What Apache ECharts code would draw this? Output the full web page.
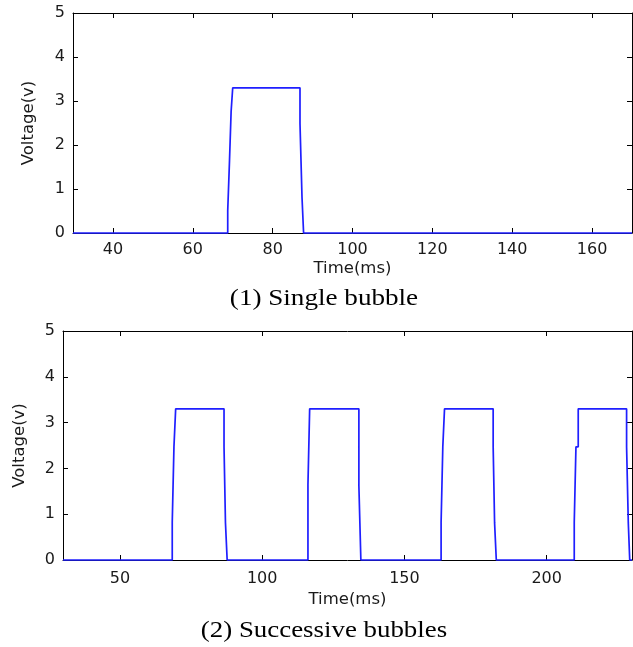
<!DOCTYPE html>
<html>
<head>
<meta charset="utf-8">
<script src="https://cdn.jsdelivr.net/npm/echarts@6/dist/echarts.min.js"></script>
<style>
html,body{margin:0;padding:0;background:#fff;}
#c{width:633px;height:647px;}
</style>
</head>
<body>
<div id="c"></div>
<script>
// ---- Data ----
// (1) Single bubble: times (ms) at which voltage changes, and the new voltage level (V)
const topTimes = [30, 68.75, 69.2, 69.6, 70.0, 86.85, 87.35, 87.75, 170];
const topVolts = [0, 0.51, 1.65, 2.76, 3.3, 2.49, 0.82, 0, 0];
// (2) Successive bubbles
const botTimes = [30, 68.4, 69.0, 69.6, 86.6, 87.1, 87.7, 116.1, 116.7, 134.0, 134.7,
                  162.9, 163.5, 164.1, 181.2, 181.7, 182.3, 209.7, 210.3, 211.1, 228.1, 228.7, 229.2, 230];
const botVolts = [0, 0.82, 2.47, 3.3, 2.47, 0.82, 0, 1.64, 3.3, 1.62, 0,
                  0.82, 2.47, 3.3, 2.47, 0.81, 0, 0.82, 2.47, 3.3, 2.47, 0.81, 0, 0];
// Axis ticks
const topXTicks = [40, 60, 80, 100, 120, 140, 160];
const botXTicks = [50, 100, 150, 200];
const yTicks = [0, 1, 2, 3, 4, 5];
const xName = 'Time(ms)';
const yName = 'Voltage(v)';
const captions = ['(1) Single bubble', '(2) Successive bubbles'];

const pairs = (t, v) => t.map((x, i) => [x, v[i]]);

const labelFont = {fontFamily: 'DejaVu Sans, sans-serif', fontSize: 16, color: '#1a1a1a'};
const nameFont = {fontFamily: 'DejaVu Sans, sans-serif', fontSize: 16.5, color: '#1a1a1a'};
const axisLineStyle = {color: '#000', width: 1};

function xAxes(gridIndex, min, max, ticks, nameGap, margin) {
  return [
    {
      type: 'value', gridIndex, min, max, position: 'bottom',
      name: xName, nameLocation: 'middle', nameGap,
      nameTextStyle: nameFont,
      axisLine: {show: true, onZero: false, lineStyle: axisLineStyle},
      axisTick: {show: true, inside: true, length: 5, customValues: ticks, lineStyle: axisLineStyle},
      axisLabel: Object.assign({show: true, margin, customValues: ticks}, labelFont),
      splitLine: {show: false}
    },
    {
      type: 'value', gridIndex, min, max, position: 'top',
      axisLine: {show: true, onZero: false, lineStyle: axisLineStyle},
      axisTick: {show: true, inside: true, length: 5, customValues: ticks, lineStyle: axisLineStyle},
      axisLabel: {show: false},
      splitLine: {show: false}
    }
  ];
}
function yAxes(gridIndex, nameGap) {
  return [
    {
      type: 'value', gridIndex, min: 0, max: 5, interval: 1, position: 'left',
      name: yName, nameLocation: 'middle', nameGap, nameRotate: 90,
      nameTextStyle: nameFont,
      axisLine: {show: true, onZero: false, lineStyle: axisLineStyle},
      axisTick: {show: true, inside: true, length: 5, customValues: yTicks, lineStyle: axisLineStyle},
      axisLabel: Object.assign({show: true, margin: 8, customValues: yTicks}, labelFont),
      splitLine: {show: false}
    },
    {
      type: 'value', gridIndex, min: 0, max: 5, interval: 1, position: 'right',
      axisLine: {show: true, onZero: false, lineStyle: axisLineStyle},
      axisTick: {show: true, inside: true, length: 5, customValues: yTicks, lineStyle: axisLineStyle},
      axisLabel: {show: false},
      splitLine: {show: false}
    }
  ];
}

const lineStyle = {color: '#1f1fff', width: 1.7};
const capFont = '24px "Liberation Serif", "Times New Roman", serif';

const option = {
  animation: false,
  backgroundColor: '#fff',
  grid: [
    {left: 73, top: 13, width: 559, height: 220},
    {left: 63, top: 331, width: 569, height: 229}
  ],
  xAxis: [].concat(xAxes(0, 30, 170, topXTicks, 27, 9), xAxes(1, 30, 230, botXTicks, 31, 11)),
  yAxis: [].concat(yAxes(0, 36), yAxes(1, 35)),
  series: [
    {type: 'line', xAxisIndex: 0, yAxisIndex: 0, data: pairs(topTimes, topVolts), step: 'end',
     showSymbol: false, symbol: 'none', lineStyle, clip: false, z: 5},
    {type: 'line', xAxisIndex: 2, yAxisIndex: 2, data: pairs(botTimes, botVolts), step: 'end',
     showSymbol: false, symbol: 'none', lineStyle, clip: false, z: 5}
  ],
  graphic: [
    {type: 'text', x: 324, y: 299, scaleX: 1.13, style: {text: captions[0], font: capFont, fill: '#000', align: 'center', verticalAlign: 'middle'}},
    {type: 'text', x: 324, y: 631, scaleX: 1.12, style: {text: captions[1], font: capFont, fill: '#000', align: 'center', verticalAlign: 'middle'}}
  ]
};

const chart = echarts.init(document.getElementById('c'), null, {renderer: 'canvas'});
chart.setOption(option);
</script>
</body>
</html>
